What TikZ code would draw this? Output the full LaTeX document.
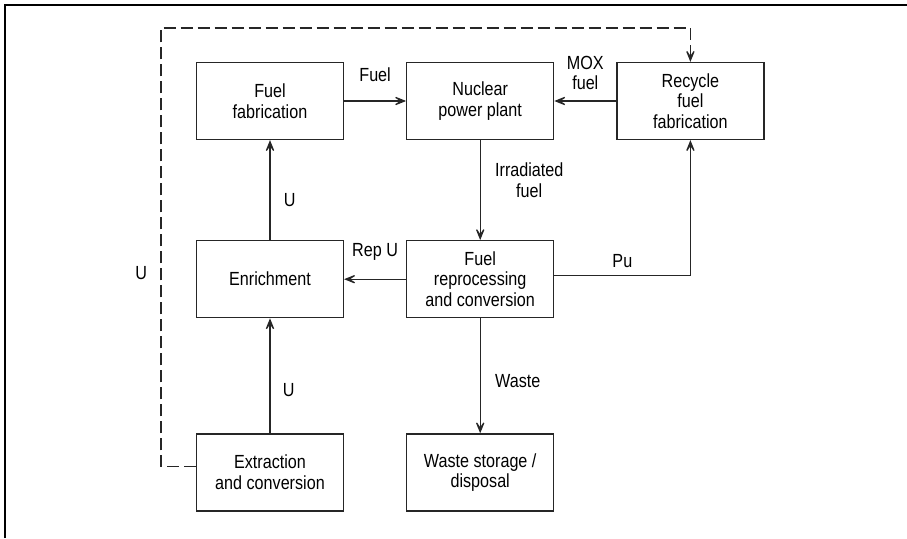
\documentclass[tikz,border=0pt]{standalone}
\usepackage{fontspec}
\setmainfont{Liberation Sans}[FakeStretch=0.85]
\usetikzlibrary{arrows.meta,positioning}

\begin{document}
\begin{tikzpicture}[x=1pt,y=-1pt,
  box/.style={draw=black!85,shape=rectangle,line width=1.2pt,minimum width=147pt,minimum height=77pt,align=center,font=\fontsize{19}{20.5}\selectfont},
  lbl/.style={font=\fontsize{19}{20.5}\selectfont,align=center},
  flow/.style={draw=black!85,line width=1.2pt,-{Stealth[length=16pt,width=13pt,inset=10pt]}}]

\useasboundingbox (0,0) rectangle (907,538);
\draw[line width=2pt] (5,538) -- (5,5) -- (907,5);

\node[box] (fab) at (270,101) {Fuel\\fabrication};
\node[box,right = 62pt of fab] (npp) {Nuclear\\power plant};
\node[box,right = 62pt of npp] (rfab) {Recycle\\fuel\\fabrication};
\node[box,below = 100pt of fab] (enr) {Enrichment};
\node[box,below = 100pt of npp] (rep) {Fuel\\reprocessing\\and conversion};
\node[box,below = 115pt of enr] (ext) {Extraction\\and conversion};
\node[box,below = 115pt of rep] (waste) {Waste storage /\\disposal};
\coordinate (dl) at (161,28);

\draw[flow] (fab) to node[midway,above=15pt,lbl] {Fuel} (npp);
\draw[flow] (rfab) to node[midway,above=7pt,lbl] {MOX\\fuel} (npp);
\draw[flow] (npp) to node[pos=0.4,right=11pt,lbl] {Irradiated\\fuel} (rep);
\draw[flow] (rep) to node[midway,above=15pt,lbl] {Rep U} (enr);
\draw[flow] (enr) to node[pos=0.4,right=10pt,lbl] {U} (fab);
\draw[flow] (ext) to node[pos=0.38,right=9pt,lbl] {U} (enr);
\draw[flow] (rep) to node[pos=0.55,right=11pt,lbl] {Waste} (waste);
\draw[flow] ([yshift=4pt]rep.east) -| node[pos=0.25,above=4pt,lbl] {Pu} (rfab.south);
\draw[flow,dash pattern=on 12pt off 5pt] ([yshift=6pt]ext.west) -| node[pos=0.72,left=10pt,lbl] {U} (dl) -| (rfab.north);
\end{tikzpicture}
\end{document}
